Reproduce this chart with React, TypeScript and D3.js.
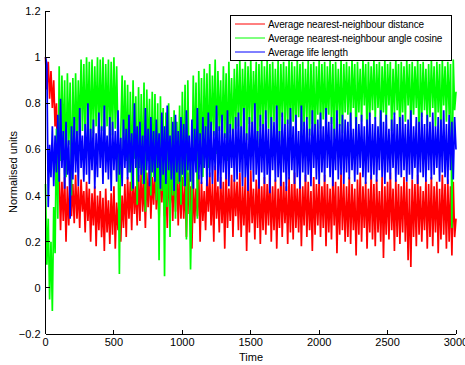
import React from 'react';
import * as d3 from 'd3';

// sampled every 10 time units, values in hundredths of a normalised unit
const timeStep = 10;

const distance = [
  100, 86, 98, 82, 94, 78, 90, 70, 80, 45, 50, 25, 46, 29, 48, 20, 44, 27, 47, 31,
  45, 28, 49, 30, 44, 26, 47, 33, 42, 24, 46, 29, 43, 20, 41, 27, 44, 18, 40, 25,
  42, 22, 39, 16, 43, 24, 38, 19, 41, 23, 44, 17, 37, 25, 42, 20, 40, 26, 45, 22,
  48, 30, 46, 25, 50, 32, 44, 27, 49, 29, 52, 33, 47, 26, 50, 35, 53, 30, 48, 36,
  52, 34, 49, 28, 54, 37, 50, 31, 47, 26, 52, 35, 48, 29, 51, 33, 55, 27, 49, 30,
  48, 30, 45, 22, 50, 32, 44, 17, 47, 28, 43, 31, 49, 20, 46, 29, 42, 25, 48, 33,
  50, 27, 45, 20, 53, 30, 44, 24, 48, 28, 46, 17, 51, 26, 43, 29, 49, 22, 47, 31,
  46, 25, 50, 22, 44, 27, 48, 16, 45, 24, 51, 28, 43, 21, 47, 26, 49, 19, 44, 25,
  48, 23, 45, 27, 50, 20, 44, 25, 47, 17, 43, 26, 49, 22, 46, 28, 44, 19, 48, 24,
  45, 21, 50, 26, 43, 24, 47, 18, 44, 27, 49, 22, 46, 25, 42, 16, 48, 23, 45, 27,
  47, 22, 44, 26, 49, 18, 45, 24, 43, 21, 48, 27, 46, 15, 44, 23, 50, 25, 45, 20,
  44, 22, 48, 19, 45, 25, 43, 14, 47, 23, 50, 20, 44, 26, 46, 17, 43, 24, 49, 21,
  45, 18, 47, 24, 42, 20, 48, 13, 44, 23, 46, 21, 50, 25, 43, 16, 47, 22, 45, 19,
  44, 24, 48, 20, 46, 12, 43, 9, 47, 22, 45, 18, 49, 23, 44, 20, 42, 25, 47, 17,
  45, 22, 48, 18, 44, 24, 46, 15, 43, 21, 49, 23, 45, 17, 47, 20, 44, 14, 46, 22, 30,
];

const angleCosine = [
  45, 10, 30, -5, 20, -10, 35, 15, 69, 30, 96, 55, 92, 60, 90, 48, 93, 62, 89, 40,
  91, 58, 93, 62, 90, 66, 99, 68, 97, 64, 100, 70, 98, 63, 99, 67, 96, 70, 100, 65,
  99, 68, 100, 64, 97, 70, 99, 62, 98, 66, 100, 69, 96, 63, 6, 67, 92, 58, 90, 55,
  88, 50, 85, 42, 90, 56, 83, 36, 87, 52, 84, 45, 89, 33, 86, 55, 82, 40, 85, 48,
  84, 38, 80, 12, 83, 42, 78, 5, 76, 35, 80, 22, 74, 40, 77, 30, 72, 45, 79, 36,
  85, 44, 88, 21, 90, 50, 8, 40, 92, 55, 89, 30, 94, 58, 91, 48, 95, 62, 93, 52,
  97, 62, 92, 66, 99, 58, 94, 68, 90, 60, 96, 65, 93, 55, 98, 67, 91, 63, 95, 69,
  97, 70, 99, 66, 95, 72, 98, 64, 96, 71, 99, 68, 94, 74, 98, 62, 97, 70, 99, 67,
  96, 73, 99, 69, 97, 65, 98, 72, 95, 70, 99, 63, 97, 74, 98, 68, 96, 71, 99, 66,
  98, 72, 96, 67, 99, 74, 97, 64, 98, 70, 95, 73, 99, 66, 97, 71, 98, 62, 96, 75,
  99, 69, 97, 73, 98, 66, 96, 75, 99, 71, 97, 64, 98, 74, 95, 70, 99, 67, 97, 76,
  98, 75, 96, 70, 99, 78, 97, 64, 98, 76, 95, 72, 99, 79, 97, 66, 98, 74, 96, 77,
  99, 73, 97, 78, 98, 65, 96, 76, 99, 72, 97, 79, 98, 68, 95, 75, 99, 77, 97, 63,
  98, 76, 96, 72, 99, 79, 97, 67, 98, 75, 96, 78, 99, 64, 97, 74, 98, 77, 95, 70,
  97, 74, 99, 78, 96, 70, 98, 76, 97, 65, 99, 79, 96, 72, 98, 75, 97, 26, 99, 77, 85,
];

const lifeLength = [
  100, 97, 35, 62, 48, 70, 44, 66, 50, 75, 46, 82, 52, 68, 43, 72, 49, 64, 30, 70,
  47, 74, 50, 68, 44, 78, 52, 66, 46, 71, 49, 80, 45, 69, 51, 73, 43, 67, 48, 76,
  52, 70, 45, 79, 50, 66, 47, 74, 42, 72, 51, 68, 46, 77, 49, 65, 44, 73, 52, 69,
  47, 75, 50, 67, 43, 80, 52, 70, 46, 72, 49, 66, 45, 78, 51, 69, 44, 74, 50, 68,
  46, 73, 52, 67, 43, 76, 49, 70, 45, 79, 51, 66, 47, 72, 42, 75, 50, 68, 46, 74,
  49, 71, 44, 77, 51, 66, 46, 73, 43, 69, 50, 78, 47, 67, 45, 74, 52, 70, 44, 76,
  48, 72, 45, 68, 51, 79, 46, 70, 43, 75, 50, 67, 47, 77, 44, 71, 52, 69, 46, 74,
  47, 76, 50, 70, 44, 78, 48, 67, 42, 74, 51, 72, 46, 80, 49, 68, 43, 75, 50, 71,
  45, 77, 49, 69, 41, 74, 51, 72, 46, 79, 48, 68, 44, 76, 50, 71, 42, 73, 47, 78,
  51, 70, 45, 75, 48, 68, 43, 79, 50, 72, 46, 74, 49, 69, 44, 77, 52, 71, 47, 73,
  45, 76, 50, 70, 46, 78, 52, 72, 48, 74, 44, 69, 51, 77, 47, 71, 49, 75, 45, 73,
  50, 72, 47, 76, 51, 69, 46, 74, 49, 71, 52, 75, 48, 70, 45, 73, 50, 76, 47, 71,
  49, 74, 46, 70, 51, 77, 48, 72, 45, 75, 50, 69, 47, 73, 52, 76, 46, 71, 49, 74,
  48, 75, 51, 71, 46, 73, 49, 77, 47, 70, 52, 74, 45, 72, 50, 76, 48, 71, 46, 75,
  51, 72, 47, 76, 49, 70, 52, 74, 46, 73, 50, 77, 48, 71, 45, 75, 51, 72, 47, 74, 60,
];

const seriesNames = [
  'Average nearest-neighbour distance',
  'Average nearest-neighbour angle cosine',
  'Average life length',
];
const seriesColors = ['#ff0000', '#00ff00', '#0000ff'];
const xTicks = [0, 500, 1000, 1500, 2000, 2500, 3000];
const yTicks = [-0.2, 0, 0.2, 0.4, 0.6, 0.8, 1, 1.2];

const W = 465;
const H = 365;
const font = 'Liberation Sans, Arial, Helvetica, sans-serif';

export default function App() {
  const x = d3.scaleLinear().domain([0, 3000]).range([45.5, 456]);
  const y = d3.scaleLinear().domain([-0.2, 1.2]).range([334, 11]);

  const line = d3
    .line<number>()
    .x((_, i) => x(i * timeStep))
    .y((v) => y(v / 100));

  const all = [distance, angleCosine, lifeLength];

  return (
    <svg
      width={W}
      height={H}
      style={{ position: 'absolute', left: 0, top: 0, background: '#fff' }}
      fontFamily={font}
    >
      <rect width={W} height={H} fill="#fff" />
      {all.map((s, k) => (
        <path
          key={k}
          d={line(s) ?? ''}
          fill="none"
          stroke={seriesColors[k]}
          strokeWidth={1.7}
          strokeLinejoin="bevel"
        />
      ))}

      {/* axes */}
      <g stroke="#000" strokeWidth={1} fill="none" shapeRendering="crispEdges">
        <line x1={x(0)} x2={x(3000)} y1={y(-0.2)} y2={y(-0.2)} />
        <line x1={x(0)} x2={x(0)} y1={y(-0.2)} y2={y(1.2)} />
        {xTicks.map((t) => (
          <line key={t} x1={x(t)} x2={x(t)} y1={y(-0.2)} y2={y(-0.2) - 4} />
        ))}
        {yTicks.map((t) => (
          <line key={t} x1={x(0)} x2={x(0) + 4} y1={y(t)} y2={y(t)} />
        ))}
      </g>
      <g fontSize={11} fill="#000">
        {xTicks.map((t) => (
          <text key={t} x={x(t)} y={y(-0.2) + 12} textAnchor="middle">
            {t}
          </text>
        ))}
        {yTicks.map((t) => (
          <text key={t} x={x(0) - 5} y={y(t) + 4} textAnchor="end">
            {d3.format('~g')(t)}
          </text>
        ))}
        <text x={251} y={361} textAnchor="middle">Time</text>
        <text transform="translate(17,172) rotate(-90)" textAnchor="middle">
          Normalised units
        </text>
      </g>

      {/* legend */}
      <g>
        <rect x={230.5} y={15.5} width={221} height={45} fill="#fff" stroke="#000" />
        {seriesNames.map((n, k) => (
          <g key={n}>
            <line x1={235} x2={265} y1={24 + k * 14} y2={24 + k * 14} stroke={seriesColors[k]} />
            <text x={268} y={27.5 + k * 14} fontSize={10} letterSpacing={-0.15} fill="#000">
              {n}
            </text>
          </g>
        ))}
      </g>
    </svg>
  );
}
